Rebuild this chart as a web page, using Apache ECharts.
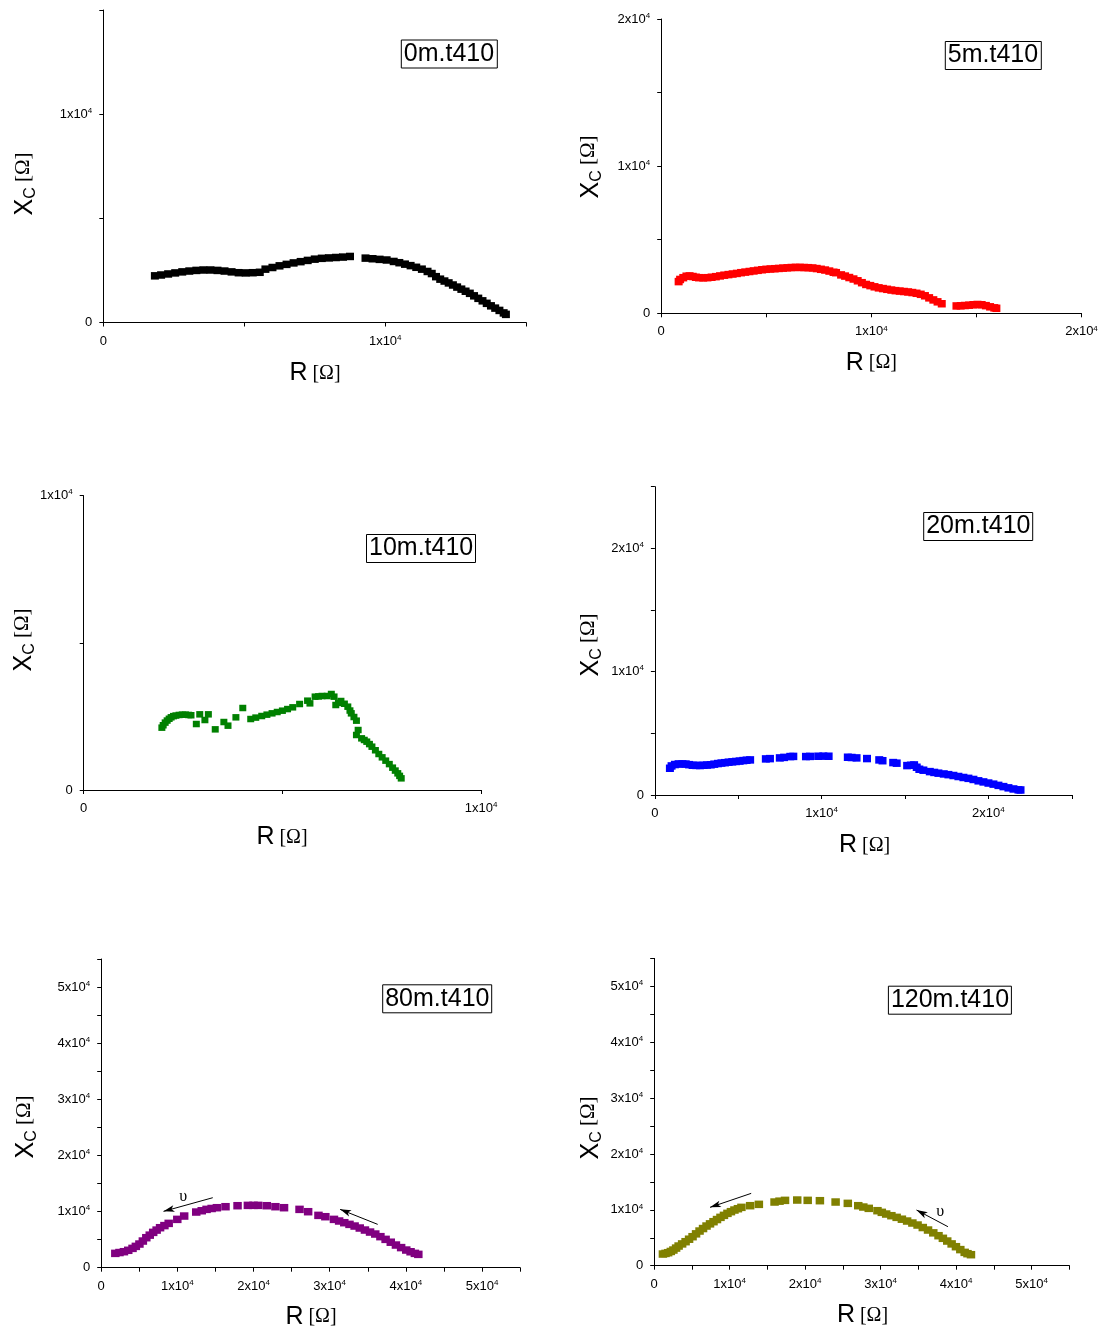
<!DOCTYPE html>
<html>
<head>
<meta charset="utf-8">
<script src="https://cdn.jsdelivr.net/npm/echarts@6/dist/echarts.min.js"></script>
<style>
html,body{margin:0;padding:0;background:#fff;}
#chart{width:1107px;height:1334px;}
</style>
</head>
<body>
<div id="chart"></div>
<script>
// ---------------- DATA ----------------
const R_0m  = [1830,2050,2300,2550,2800,3050,3300,3550,3800,4050,4300,4550,4800,5050,5300,5550,5750,6000,6250,6500,6750,7000,7250,7500,7750,8000,8250,8500,8750,9300,9550,9800,10050,10300,10500,10700,10900,11100,11300,11500,11650,11800,11950,12100,12250,12400,12550,12700,12850,13000,13150,13300,13450,13600,13750,13900,14050,14200,14280];
const XC_0m = [2240,2280,2330,2380,2430,2470,2500,2520,2520,2500,2470,2430,2390,2380,2390,2410,2560,2640,2720,2790,2860,2920,2980,3040,3080,3100,3120,3140,3170,3090,3060,3030,3000,2930,2870,2800,2730,2650,2560,2450,2350,2200,2080,1990,1900,1800,1700,1600,1500,1400,1280,1160,1040,920,800,690,580,460,390];

const R_5m  = [830,900,1050,1200,1350,1500,1650,1800,2000,2200,2400,2600,2800,3000,3200,3400,3600,3800,4000,4200,4400,4600,4800,5000,5200,5400,5600,5800,6000,6200,6400,6600,6800,7000,7200,7400,7600,7800,8000,8200,8320,8560,8750,8950,9150,9350,9550,9750,9950,10150,10350,10550,10750,10950,11150,11350,11550,11750,11950,12150,12350,12550,12750,12950,13150,13350,14050,14250,14450,14650,14850,15050,15250,15450,15650,15850,15950];
const XC_5m = [2154,2300,2420,2520,2540,2500,2450,2420,2410,2420,2450,2490,2540,2590,2630,2670,2710,2760,2800,2840,2880,2920,2960,2990,3010,3030,3050,3070,3090,3110,3120,3120,3110,3100,3080,3040,2990,2940,2870,2790,2760,2610,2530,2430,2330,2210,2080,1960,1880,1800,1730,1680,1630,1580,1540,1510,1480,1450,1410,1360,1290,1190,1050,910,780,650,500,510,530,550,580,600,580,520,440,370,340];

const R_10m  = [1967,2000,2050,2100,2150,2200,2260,2320,2400,2480,2560,2640,2700,2834,2920,3050,3137,3310,3527,3631,3830,4003,4203,4330,4480,4610,4740,4870,5000,5130,5260,5433,5633,5693,5823,5910,5997,6127,6231,6300,6343,6410,6473,6560,6646,6700,6733,6800,6863,6906,6863,6993,7060,7123,7190,7253,7340,7426,7510,7600,7690,7773,7840,7903,7950,7990];
const XC_10m = [2118,2200,2290,2360,2420,2470,2510,2530,2550,2560,2560,2550,2540,2242,2571,2378,2571,2061,2310,2186,2469,2786,2412,2460,2514,2560,2605,2650,2695,2750,2809,2922,3035,2944,3171,3180,3194,3194,3262,3171,2888,2960,3024,2930,2831,2700,2605,2480,2356,2038,1869,1755,1700,1642,1560,1472,1350,1223,1110,997,880,759,660,566,480,396];

const R_20m  = [900,1000,1200,1420,1650,1850,2050,2260,2480,2700,2920,3130,3350,3560,3780,3990,4200,4420,4640,4860,5080,5300,5500,5711,6653,6900,7490,7750,8117,8300,9059,9300,9791,10100,10418,11569,11800,12092,12720,13452,13650,14289,14500,15126,15350,15544,15700,15858,16100,16485,16750,17000,17322,17600,17900,18200,18500,18800,19100,19400,19700,20000,20300,20600,20900,21200,21500,21800,21925];
const XC_20m = [2168,2358,2470,2520,2520,2510,2460,2412,2400,2390,2410,2430,2450,2500,2550,2590,2620,2660,2690,2720,2750,2790,2820,2846,2927,2950,3008,3050,3117,3130,3117,3130,3144,3150,3144,3062,3040,3008,2954,2846,2780,2629,2580,2385,2410,2439,2250,2087,2010,1897,1830,1770,1707,1650,1580,1500,1420,1350,1260,1150,1060,970,880,780,680,580,490,420,407];

const R_80m  = [1854,2400,2984,3550,4114,4550,5018,5470,5922,6374,6826,7278,7730,8300,8861,9991,10895,12477,13200,13834,14500,15190,16320,17902,19259,20000,20615,21745,22875,24005,26040,27170,28526,29430,30561,31240,31917,32600,33273,33950,34629,35300,35986,36660,37342,38020,38698,39380,40054,40620,41184,41637];
const XC_80m = [2553,2700,2850,3100,3444,3800,4216,4750,5344,5800,6295,6700,7126,7500,7898,8610,9204,9917,10150,10392,10550,10689,10867,11045,11105,11110,11105,11045,10867,10689,10392,9976,9323,9085,8610,8320,8017,7720,7423,7070,6710,6350,5998,5530,5048,4540,4038,3580,3147,2840,2553,2375];

const R_120m  = [1155,1500,1848,2200,2542,2900,3235,3700,4159,4620,5083,5545,6007,6470,6932,7394,7856,8318,8780,9242,9704,10166,10628,11090,11553,12708,13863,15943,16600,17329,18946,20333,21950,24030,25647,27033,27700,28420,29575,30150,30730,31420,32116,32810,33503,34200,34889,35580,36275,36970,37662,38240,38817,39400,39972,40550,41128,41500,41959];
const XC_120m = [2088,2200,2327,2550,2804,3150,3520,3900,4296,4740,5191,5700,6205,6650,7100,7490,7876,8260,8652,9010,9368,9670,9964,10200,10442,10740,10979,11396,11550,11694,11754,11694,11635,11396,11158,10740,10500,10263,9845,9550,9248,8950,8652,8320,7995,7640,7279,6830,6384,5880,5370,4900,4415,3900,3401,2880,2387,2150,1969];

const PANEL_LABELS = ['0m.t410','5m.t410','10m.t410','20m.t410','80m.t410','120m.t410'];
const PANEL_COLORS = ['#000000','#ff0000','#008000','#0000ff','#800080','#808000'];
const X_MAX = [15000,20000,10000,25000,55000,55000];
const Y_MAX = [15000,20000,10000,25000,55000,55000];
const TICK_STEP = 5000;     // minor/major tick spacing
const LABEL_STEP = 10000;   // labelled ticks

// direction arrows [from, to] in data units, and "υ" label positions
const ARROWS_80m  = [[[14647,12470],[8183,10036]], [[36302,7720],[31365,10392]]];
const UPS_80m     = [10760,12708];
const ARROWS_120m = [[[12847,12947],[7394,10442]], [[38909,6981],[34750,9964]]];
const UPS_120m    = [37893,9666];

// ---------------- LAYOUT ----------------
const FONT  = 'Arial, "Liberation Sans", sans-serif';
const SERIF = '"Times New Roman", "Liberation Serif", serif';
const GRIDS = [
  {left:103.3, top:10,    width:422.9, height:312.5},
  {left:661.2, top:19,    width:420.3, height:294.3},
  {left:83.7,  top:495.7, width:397.4, height:294.3},
  {left:654.9, top:486.7, width:416.9, height:308.3},
  {left:101.2, top:959,   width:418.9, height:308.7},
  {left:654.2, top:958.4, width:415.2, height:307.3}
];
const BOXES = [[400.8,39.5],[944.8,41],[366,534],[923.2,512],[382.2,984.3],[887.9,985.7]];
const YTITLE = [[26,184],[591.4,167],[25,640],[591.4,645],[27,1127],[591.4,1128]];
const XTITLE = [[315,373.5],[871.4,363],[282,837.5],[864.6,845.5],[311,1317],[862.5,1315.5]];
const SYMBOL_SIZE = [[8,7.5],[8,7.5],[7,6.5],[8,7.5],[8.5,7.5],[8.5,7.5]];

const SERIES_R  = [R_0m, R_5m, R_10m, R_20m, R_80m, R_120m];
const SERIES_XC = [XC_0m, XC_5m, XC_10m, XC_20m, XC_80m, XC_120m];

function tickFmt(v){
  if (v === 0) return '{n|0}';
  if (Math.abs(v % LABEL_STEP) < 1e-6) return '{n|' + (v/LABEL_STEP) + 'x10}{s|4}';
  return '';
}
const labelRich = {
  n:{fontSize:13, fontFamily:FONT, color:'#000', lineHeight:15},
  s:{fontSize:8, fontFamily:FONT, color:'#000', lineHeight:8, verticalAlign:'top'}
};
function axisCommon(i, max, isX){
  return {
    type:'value', gridIndex:i, min:0, max:max, interval:TICK_STEP,
    splitLine:{show:false},
    axisLine:{show:true, onZero:false, lineStyle:{color:'#000', width:1}},
    axisTick:{show:true, inside:false, length:4, lineStyle:{color:'#000', width:1}},
    axisLabel:{show:true, margin:11, formatter:tickFmt, rich:labelRich, hideOverlap:false, showMaxLabel:true, showMinLabel:true}
  };
}

const grids = GRIDS.map(g => Object.assign({}, g));
const xAxes = X_MAX.map((m,i) => axisCommon(i, m, true));
const yAxes = Y_MAX.map((m,i) => axisCommon(i, m, false));

function arrowMarkLine(arrows, curv){
  return {
    silent:true, animation:false,
    symbol:['none','arrow'], symbolSize:[5,11],
    label:{show:false},
    lineStyle:{color:'#000', width:1, type:'solid'},
    data: arrows.map((a,k) => [{coord:a[0], lineStyle:{curveness:curv[k]}}, {coord:a[1]}])
  };
}
function upsMark(pos){
  return {
    silent:true, animation:false,
    symbol:'rect', symbolSize:1, itemStyle:{color:'rgba(0,0,0,0)'},
    label:{show:true, position:'inside', formatter:'υ', fontFamily:SERIF, fontSize:16, color:'#000'},
    data:[{coord:pos}]
  };
}

const series = SERIES_R.map((rs,i) => {
  const s = {
    type:'scatter', xAxisIndex:i, yAxisIndex:i,
    symbol:'rect', symbolSize:SYMBOL_SIZE[i],
    itemStyle:{color:PANEL_COLORS[i], opacity:1},
    data: rs.map((r,k) => [r, SERIES_XC[i][k]])
  };
  if (i === 4){ s.markLine = arrowMarkLine(ARROWS_80m, [0.15, 0]); s.markPoint = upsMark(UPS_80m); }
  if (i === 5){ s.markLine = arrowMarkLine(ARROWS_120m, [0.12, 0]); s.markPoint = upsMark(UPS_120m); }
  return s;
});

const titles = PANEL_LABELS.map((t,i) => ({
  text:t, left:BOXES[i][0], top:BOXES[i][1],
  borderColor:'#000', borderWidth:1, padding:[1,3,1,3],
  textStyle:{fontSize:25, fontWeight:'normal', fontFamily:FONT, color:'#000', lineHeight:27}
}));

const graphics = [];
YTITLE.forEach(p => {
  graphics.push({
    type:'text', x:p[0], y:p[1], rotation:Math.PI/2, silent:true,
    style:{
      text:'{x|X}{c|C}{o| [Ω]}', align:'center', verticalAlign:'middle',
      rich:{
        x:{fontSize:25, fontFamily:FONT, fill:'#000', lineHeight:26, verticalAlign:'top'},
        c:{fontSize:16, fontFamily:FONT, fill:'#000', lineHeight:16, verticalAlign:'bottom'},
        o:{fontSize:21, fontFamily:SERIF, fill:'#000', lineHeight:26, verticalAlign:'top'}
      },
      lineHeight:34
    }
  });
});
XTITLE.forEach(p => {
  graphics.push({
    type:'text', x:p[0], y:p[1], silent:true,
    style:{
      text:'{r|R}{o|[Ω]}', align:'center', verticalAlign:'middle',
      rich:{
        r:{fontSize:25, fontFamily:FONT, fill:'#000', lineHeight:26},
        o:{fontSize:20, fontFamily:SERIF, fill:'#000', lineHeight:26, padding:[0,0,0,5]}
      }
    }
  });
});

const chart = echarts.init(document.getElementById('chart'), null, {renderer:'canvas'});
chart.setOption({
  backgroundColor:'#ffffff',
  animation:false,
  title:titles,
  grid:grids,
  xAxis:xAxes,
  yAxis:yAxes,
  series:series,
  graphic:graphics
});
</script>
</body>
</html>
